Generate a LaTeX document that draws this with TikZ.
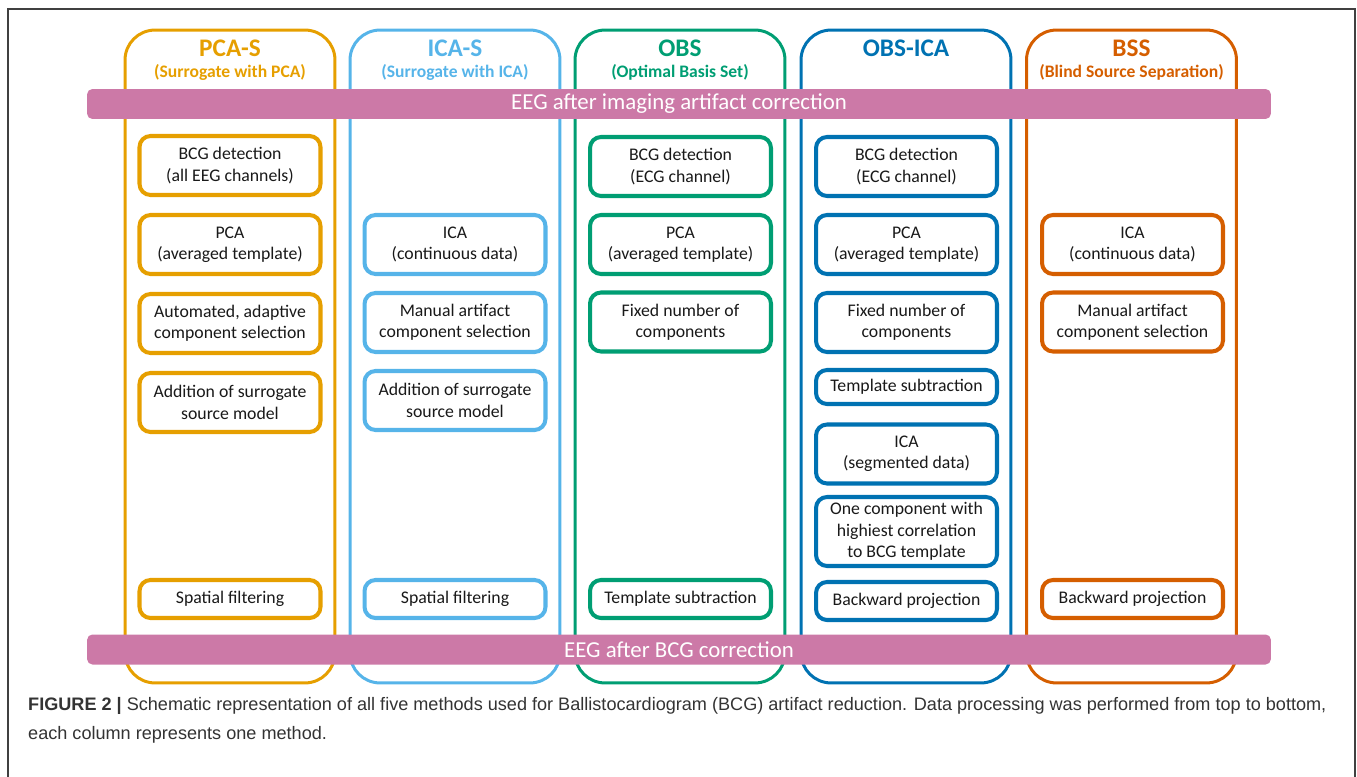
\documentclass[tikz,border=0pt]{standalone}
\usepackage{fontspec}
\setmainfont{Carlito}
\newfontfamily\capfont{Liberation Sans}
\definecolor{pcacol}{HTML}{E69F00}
\definecolor{icacol}{HTML}{56B4E9}
\definecolor{obscol}{HTML}{009E73}
\definecolor{obsicacol}{HTML}{0072B2}
\definecolor{bsscol}{HTML}{D55E00}
\definecolor{barcol}{HTML}{CC79A7}
\definecolor{captext}{HTML}{333333}
\tikzset{
  column/.style={draw=#1, line width=1.7pt, rounded corners=0.6cm,
    minimum width=4.2cm, minimum height=13.06cm},
  head/.style={text=#1, font=\bfseries\Large, align=center},
  subhead/.style={text=#1, font=\bfseries\fontsize{10}{12}\selectfont, align=center},
  stepbox/.style={draw=#1, line width=2.3pt, rounded corners=0.22cm,
    fill=white, align=center, minimum width=3.62cm, minimum height=1.18cm,
    inner sep=0pt, font=\fontsize{10.1}{12.2}\selectfont, text=black!90},
  bar/.style={fill=barcol, rounded corners=3pt, minimum width=23.68cm,
    minimum height=0.6cm, inner sep=0pt, text=white, font=\fontsize{13}{15}\selectfont}
}
\begin{document}
\begin{tikzpicture}[x=0.02cm, y=-0.02cm]
  \useasboundingbox (0,0) rectangle (1357,777);
  % frame
  \draw[black!75, line width=0.6pt] (8,790) -- (8,9) -- (1355,9) -- (1355,790);
  % method columns
  \node[column=pcacol] (pcas) at (230,356.5) {};
  \node[column=icacol] (icas) at (455,356.5) {};
  \node[column=obscol] (obs) at (680,356.5) {};
  \node[column=obsicacol] (obsica) at (906,356.5) {};
  \node[column=bsscol] (bss) at (1131.5,356.5) {};
  % headers
  \node[head=pcacol] (pcash) at (230,48) {PCA-S};
  \node[subhead=pcacol] (pcass) at (230,72) {(Surrogate with PCA)};
  \node[head=icacol] (icash) at (455,48) {ICA-S};
  \node[subhead=icacol] (icass) at (455,72) {(Surrogate with ICA)};
  \node[head=obscol] (obsh) at (680,48) {OBS};
  \node[subhead=obscol] (obss) at (680,72) {(Optimal Basis Set)};
  \node[head=obsicacol] (obsicah) at (906,48) {OBS-ICA};
  \node[head=bsscol] (bssh) at (1131.5,48) {BSS};
  \node[subhead=bsscol] (bsss) at (1131.5,72) {(Blind Source Separation)};
  % input and output
  \node[bar] (input) at (679,104) {EEG after imaging artifact correction};
  \node[bar] (output) at (679,649.5) {EEG after BCG correction};
  % PCA-S
  \node[stepbox=pcacol] (pcas1) at (230,165.5) {BCG detection\\(all EEG channels)};
  \node[stepbox=pcacol] (pcas2) at (230,244.5) {PCA\\(averaged template)};
  \node[stepbox=pcacol] (pcas3) at (230,323.5) {Automated, adaptive\\component selection};
  \node[stepbox=pcacol] (pcas4) at (230,402.5) {Addition of surrogate\\source model};
  \node[stepbox=pcacol, minimum height=0.76cm] (pcas5) at (230,599) {Spatial filtering};
  % ICA-S
  \node[stepbox=icacol] (icas1) at (455,244.5) {ICA\\(continuous data)};
  \node[stepbox=icacol] (icas2) at (455,322.5) {Manual artifact\\component selection};
  \node[stepbox=icacol] (icas3) at (455,400.5) {Addition of surrogate\\source model};
  \node[stepbox=icacol, minimum height=0.76cm] (icas4) at (455,599) {Spatial filtering};
  % OBS
  \node[stepbox=obscol] (obs1) at (680.5,166.5) {BCG detection\\(ECG channel)};
  \node[stepbox=obscol] (obs2) at (680.5,244.5) {PCA\\(averaged template)};
  \node[stepbox=obscol] (obs3) at (680.5,322) {Fixed number of\\components};
  \node[stepbox=obscol, minimum height=0.76cm] (obs4) at (680.5,599) {Template subtraction};
  % OBS-ICA
  \node[stepbox=obsicacol] (obsica1) at (906.5,166.5) {BCG detection\\(ECG channel)};
  \node[stepbox=obsicacol] (obsica2) at (906.5,244.5) {PCA\\(averaged template)};
  \node[stepbox=obsicacol] (obsica3) at (906.5,322.5) {Fixed number of\\components};
  \node[stepbox=obsicacol, minimum height=0.68cm] (obsica4) at (906.5,387) {Template subtraction};
  \node[stepbox=obsicacol] (obsica5) at (906.5,454) {ICA\\(segmented data)};
  \node[stepbox=obsicacol, minimum height=1.38cm] (obsica6) at (906.5,531.5) {One component with\\highiest correlation\\to BCG template};
  \node[stepbox=obsicacol, minimum height=0.76cm] (obsica7) at (906.5,601) {Backward projection};
  % BSS
  \node[stepbox=bsscol] (bss1) at (1132.5,244.5) {ICA\\(continuous data)};
  \node[stepbox=bsscol] (bss2) at (1132.5,322) {Manual artifact\\component selection};
  \node[stepbox=bsscol, minimum height=0.76cm] (bss3) at (1132.5,599) {Backward projection};
  % caption
  \node[anchor=west, align=left, text=captext, font=\capfont\fontsize{10.3}{16.4}\selectfont]
    (caption) at (22,720.5) {\textbf{FIGURE 2} \textbf{|} Schematic representation of all five methods used for Ballistocardiogram (BCG) artifact reduction. Data processing was performed from top to bottom,\\each column represents one method.};
\end{tikzpicture}
\end{document}
